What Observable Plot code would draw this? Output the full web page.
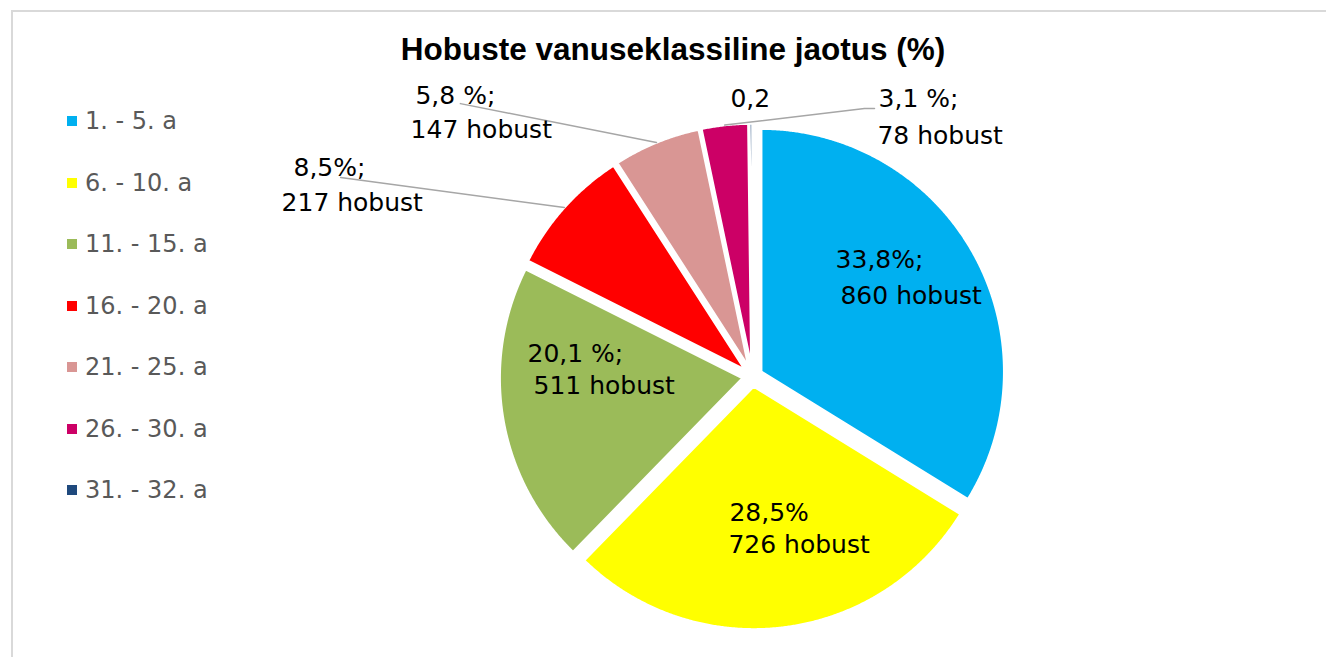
<!DOCTYPE html>
<html>
<head>
<meta charset="utf-8">
<script src="https://cdn.jsdelivr.net/npm/d3@7"></script>
<script src="https://cdn.jsdelivr.net/npm/@observablehq/plot@0.6"></script>
<style>
html, body { margin: 0; padding: 0; background: #fff; overflow: hidden; width: 1326px; height: 657px; }
#frame { position: absolute; left: 11px; top: 10px; width: 1340px; height: 700px; border: 2px solid #d9d9d9; box-sizing: border-box; }
#chart { position: absolute; left: 0; top: 0; }
#title { position: absolute; left: 0; top: 34px; width: 1346px; text-align: center; font: bold 31.5px "Liberation Sans", Arial, sans-serif; line-height: 31.5px; color: #000; white-space: nowrap; }
.item { position: absolute; left: 67px; height: 24px; display: flex; align-items: center; font: 24px "DejaVu Sans", sans-serif; line-height: 24px; color: #595959; white-space: nowrap; }
.sw { width: 10px; height: 10px; margin-right: 8px; flex: none; }
</style>
</head>
<body>
<div id="frame"></div>
<div id="chart"></div>
<div id="title">Hobuste vanuseklassiline jaotus (%)</div>
<div id="legend"></div>
<script>
// ---- data ----
const categories = ["1. - 5. a", "6. - 10. a", "11. - 15. a", "16. - 20. a", "21. - 25. a", "26. - 30. a", "31. - 32. a"];
const percents = [33.8, 28.5, 20.1, 8.5, 5.8, 3.1, 0.2];
const counts = [860, 726, 511, 217, 147, 78, null];
const pctLabels = ["33,8%;", "28,5%", "20,1 %;", "8,5%;", "5,8 %;", "3,1 %;", "0,2"];
const colors = ["#00b0f0", "#ffff00", "#9bbb59", "#ff0000", "#d99694", "#cc0066", "#1f497d"];

// ---- layout (pie unit coordinates, y up) ----
const explode = 0.041;
const labelPos = [
  [[0.342, 0.481], [0.362, 0.331]],
  [[-0.095, -0.560], [-0.099, -0.695]],
  [[-0.926, 0.092], [-0.901, -0.039]],
  [[-1.889, 0.856], [-1.938, 0.714]],
  [[-1.387, 1.156], [-1.407, 1.016]],
  [[0.519, 1.142], [0.514, 0.988]],
  [[-0.091, 1.144]]
];
const leaderFrom = [null, null, null, [[-1.695, 0.819]], [[-1.202, 1.123]], [[0.502, 1.103], [0.461, 1.103]], null];

// ---- build geometry ----
const arcs = d3.pie().sort(null).value(d => d).startAngle(0).endAngle(2 * Math.PI)(percents);
const slices = [];
const leaders = [];
const labels = [];
arcs.forEach((a, i) => {
  const mid = (a.startAngle + a.endAngle) / 2;
  const ox = explode * Math.sin(mid), oy = explode * Math.cos(mid);
  slices.push({k: i, x: ox, y: oy, c: colors[i]});
  const n = Math.max(2, Math.ceil((a.endAngle - a.startAngle) / 0.005));
  for (let j = 0; j <= n; j++) {
    const t = a.startAngle + (a.endAngle - a.startAngle) * j / n;
    slices.push({k: i, x: ox + Math.sin(t), y: oy + Math.cos(t), c: colors[i]});
  }
  slices.push({k: i, x: ox, y: oy, c: colors[i]});
  if (leaderFrom[i]) {
    leaderFrom[i].forEach(p => leaders.push({k: i, x: p[0], y: p[1]}));
    leaders.push({k: i, x: (1 + explode) * Math.sin(mid), y: (1 + explode) * Math.cos(mid)});
  }
  const lines = counts[i] == null ? [pctLabels[i]] : [pctLabels[i], `${counts[i]} hobust`];
  lines.forEach((t, j) => labels.push({x: labelPos[i][j][0], y: labelPos[i][j][1], t}));
});

const chart = Plot.plot({
  width: 1326,
  height: 657,
  margin: 0,
  x: {domain: [-1, 1], range: [509, 995], axis: null},
  y: {domain: [-1, 1], range: [619, 133], axis: null},
  color: {type: "identity"},
  marks: [
    Plot.line(slices, {x: "x", y: "y", z: "k", fill: "c", stroke: "white", strokeWidth: 2.5, strokeLinejoin: "round", curve: "linear"}),
    Plot.line(leaders, {x: "x", y: "y", z: "k", stroke: "#a6a6a6", strokeWidth: 1.5}),
    Plot.text(labels, {x: "x", y: "y", text: "t", textAnchor: "start", fontSize: 25, fontFamily: "DejaVu Sans", fill: "#000"})
  ]
});
document.getElementById("chart").appendChild(chart);

// ---- legend ----
const legend = document.getElementById("legend");
categories.forEach((c, i) => {
  const it = document.createElement("div");
  it.className = "item";
  it.style.top = (121 + i * 61.5 - 12) + "px";
  it.innerHTML = `<span class="sw" style="background:${colors[i]}"></span><span>${c}</span>`;
  legend.appendChild(it);
});
</script>
</body>
</html>
